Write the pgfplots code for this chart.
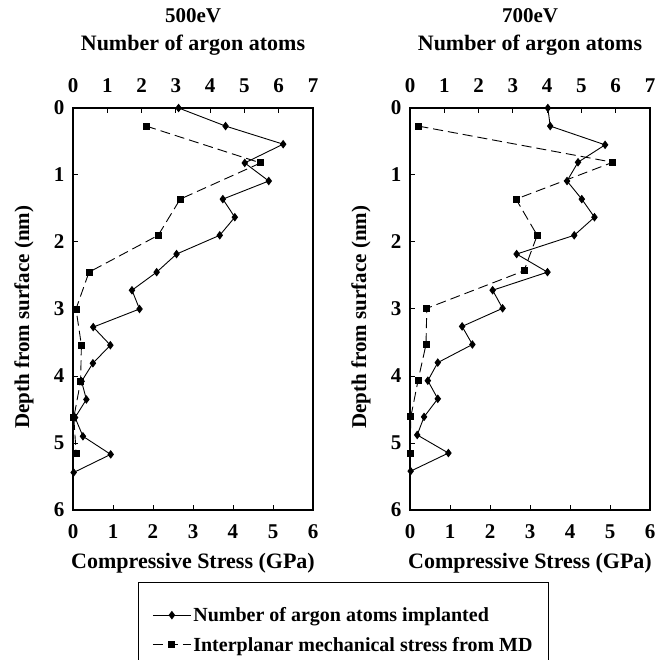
\documentclass[border=0pt]{standalone}
\usepackage{fontspec}
\setmainfont{Liberation Serif}
\usepackage{pgfplots}
\pgfplotsset{compat=1.18}
\pgfplotstableread{
atoms depth
3.08 0
4.45 0.27
6.13 0.54
5.01 0.82
5.71 1.09
4.37 1.36
4.72 1.63
4.28 1.90
3.02 2.18
2.44 2.45
1.72 2.72
1.94 3.00
0.59 3.27
1.09 3.54
0.58 3.81
0.25 4.08
0.39 4.35
0.06 4.62
0.29 4.90
1.10 5.17
0.02 5.44
}\leftatoms
\pgfplotstableread{
stress depth
1.83 0.27
4.69 0.82
2.68 1.36
2.13 1.90
0.40 2.45
0.075 3.00
0.21 3.54
0.19 4.08
0.02 4.62
0.08 5.16
}\leftstress
\pgfplotstableread{
atoms depth
4.02 0
4.09 0.27
5.69 0.55
4.90 0.81
4.58 1.09
5.01 1.36
5.38 1.63
4.79 1.90
3.11 2.18
4.01 2.45
2.41 2.72
2.70 2.99
1.52 3.26
1.82 3.53
0.81 3.80
0.52 4.07
0.81 4.34
0.41 4.61
0.21 4.88
1.12 5.15
0.02 5.42
}\rightatoms
\pgfplotstableread{
stress depth
0.21 0.27
5.07 0.81
2.65 1.36
3.18 1.90
2.85 2.43
0.42 2.99
0.40 3.53
0.20 4.07
0.02 4.61
0.00 5.15
}\rightstress
\begin{document}
\begin{tikzpicture}
\useasboundingbox (0pt,0pt) rectangle (671pt,660pt);
\pgfplotsset{
  panel/.style={
    width=240pt, height=402pt, scale only axis, anchor=south west,
    ymin=0, ymax=6, y dir=reverse, clip=false,
    tick align=inside, major tick length=5pt,
    axis line style={line width=1.1pt},
    every tick/.style={black, line width=1pt},
    tick label style={font=\fontsize{21}{25}\selectfont\bfseries},
    /pgf/number format/assume math mode=true,
    label style={font=\fontsize{22}{26}\selectfont\bfseries},
  },
  bottompanel/.style={panel,
    xmin=0, xmax=6, xtick={0,...,6}, ytick={0,...,6},
    xtick pos=left, ytick pos=left,
    xticklabel style={yshift=-11pt},
    yticklabel style={xshift=-5pt},
    xlabel={Compressive Stress (GPa)},
    xlabel style={at={(axis description cs:0.5,-0.132)}, anchor=center},
    ylabel={Depth from surface (nm)},
    ylabel style={at={(axis description cs:-0.204,0.48)}, anchor=center,
      font=\fontsize{21}{25}\selectfont\bfseries},
  },
  toppanel/.style={panel,
    xmin=0, xmax=7, xtick={0,...,7}, ytick=\empty,
    xtick pos=right, xticklabel pos=right,
    xticklabel style={yshift=12pt},
    hide y axis,
    xlabel={Number of argon atoms},
    xlabel style={at={(axis description cs:0.5,1.157)}, anchor=center},
    title style={at={(axis description cs:0.5,1.214)}, anchor=center,
      font=\fontsize{21}{25}\selectfont\bfseries},
  },
  atomstyle/.style={black, line width=0.9pt, mark=diamond*, mark size=3.6pt,
    mark options={solid}},
  stressstyle/.style={black, line width=0.9pt, dash pattern=on 10pt off 5pt,
    mark=square*, mark size=3pt, mark options={solid}},
}
% ---------- left panel ----------
\begin{axis}[bottompanel, at={(73pt,150pt)}]
\addplot[stressstyle] table[x=stress,y=depth] {\leftstress};
\end{axis}
\begin{axis}[toppanel, at={(73pt,150pt)}, title={500eV},
  legend cell align=left,
  legend image code/.code={\draw[mark repeat=2,mark phase=2,#1] plot coordinates {(0pt,0pt) (19pt,0pt) (38pt,0pt)};},
  legend style={at={(axis description cs:0.271,-0.179)}, anchor=north west,
    draw=black, line width=0.8pt, inner xsep=14pt, inner ysep=23pt, row sep=10pt,
    font=\fontsize{20}{24}\selectfont\bfseries}]
\addplot[atomstyle] table[x=atoms,y=depth] {\leftatoms};
\addlegendentry{Number of argon atoms implanted}
\addlegendimage{stressstyle}
\addlegendentry{Interplanar mechanical stress from MD}
\end{axis}
% ---------- right panel ----------
\begin{axis}[bottompanel, at={(410pt,150pt)}]
\addplot[stressstyle] table[x=stress,y=depth] {\rightstress};
\end{axis}
\begin{axis}[toppanel, at={(410pt,150pt)}, title={700eV}]
\addplot[atomstyle] table[x=atoms,y=depth] {\rightatoms};
\end{axis}
\end{tikzpicture}
\end{document}
